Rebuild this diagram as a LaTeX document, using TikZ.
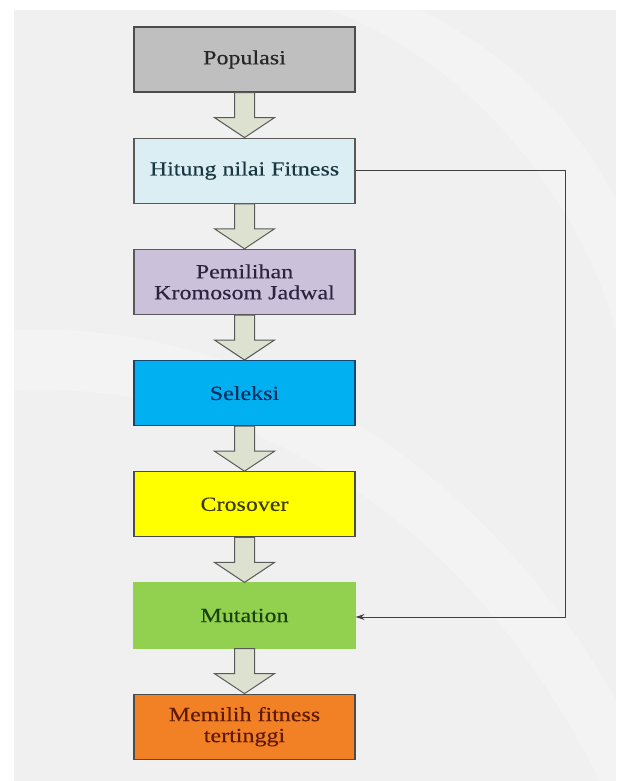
\documentclass[tikz,border=0pt]{standalone}
\usepackage{fontspec}
\setmainfont{Liberation Serif}[FakeStretch=1.2,FakeBold=0.3]
\usetikzlibrary{arrows.meta}

\definecolor{slidebg}{RGB}{240,240,240}
\definecolor{arrowfill}{RGB}{221,225,207}
\definecolor{popfill}{RGB}{191,191,191}
\definecolor{hitfill}{RGB}{219,238,244}
\definecolor{pilfill}{RGB}{204,193,218}
\definecolor{selfill}{RGB}{0,176,240}
\definecolor{crofill}{RGB}{255,255,0}
\definecolor{mutfill}{RGB}{146,208,80}
\definecolor{memfill}{RGB}{242,128,36}

\begin{document}
\begin{tikzpicture}[x=1pt,y=1pt]

\tikzstyle{boxnode}=[rectangle,inner sep=0mm,minimum height=65pt,minimum width=221pt,line width=1.2pt,align=center,font=\fontsize{20}{21}\selectfont]
\tikzstyle{blockarrow}=[draw=black!65,fill=arrowfill,line width=1pt,line join=miter]
\tikzstyle{swoosh}=[fill=white,opacity=0.25]

\useasboundingbox (0,0) rectangle (616,-781);
\fill[slidebg] (14,-10) rectangle (616,-781);
% faint slide background bands
\fill[swoosh] (330,-10) .. controls (470,-60) and (580,-200) .. (616,-330) -- (616,-200) .. controls (570,-110) and (500,-50) .. (420,-10) -- cycle;
\fill[swoosh] (14,-330) .. controls (250,-320) and (480,-460) .. (616,-700) -- (616,-781) -- (600,-781) .. controls (470,-520) and (250,-380) .. (14,-390) -- cycle;

\begin{scope}[]

\node [boxnode,draw=black!70,fill=popfill,text=black!85] (pop) at (244.5,-59.5){Populasi};
\node [anchor=north,boxnode,draw=black!65,fill=hitfill,text={rgb,255:red,25;green,55;blue,65}] (hit) at ([xshift=0pt,yshift=-45pt]pop.south){Hitung nilai Fitness};
\node [anchor=north,boxnode,draw=black!65,fill=pilfill,text={rgb,255:red,45;green,35;blue,65}] (pil) at ([xshift=0pt,yshift=-45pt]hit.south){Pemilihan\\Kromosom Jadwal};
\node [anchor=north,boxnode,draw={rgb,255:red,20;green,70;blue,110},fill=selfill,text={rgb,255:red,10;green,45;blue,95}] (sel) at ([xshift=0pt,yshift=-45pt]pil.south){Seleksi};
\node [anchor=north,boxnode,draw=black!70,fill=crofill,text={rgb,255:red,60;green,60;blue,0}] (cro) at ([xshift=0pt,yshift=-45pt]sel.south){Crosover};
\node [anchor=north,boxnode,draw=mutfill,fill=mutfill,text={rgb,255:red,25;green,65;blue,15}] (mut) at ([xshift=0pt,yshift=-45pt]cro.south){Mutation};
\node [anchor=north,boxnode,draw=black!70,fill=memfill,text={rgb,255:red,95;green,25;blue,0}] (mem) at ([xshift=0pt,yshift=-45pt]mut.south){Memilih fitness\\tertinggi};


\draw[blockarrow] ([xshift=-10pt]pop.south)--([xshift=-10pt,yshift=-25pt]pop.south)--([xshift=-30pt,yshift=-25pt]pop.south)--(hit.north)--([xshift=30pt,yshift=-25pt]pop.south)--([xshift=10pt,yshift=-25pt]pop.south)--([xshift=10pt]pop.south)--cycle;
\draw[blockarrow] ([xshift=-10pt]hit.south)--([xshift=-10pt,yshift=-25pt]hit.south)--([xshift=-30pt,yshift=-25pt]hit.south)--(pil.north)--([xshift=30pt,yshift=-25pt]hit.south)--([xshift=10pt,yshift=-25pt]hit.south)--([xshift=10pt]hit.south)--cycle;
\draw[blockarrow] ([xshift=-10pt]pil.south)--([xshift=-10pt,yshift=-25pt]pil.south)--([xshift=-30pt,yshift=-25pt]pil.south)--(sel.north)--([xshift=30pt,yshift=-25pt]pil.south)--([xshift=10pt,yshift=-25pt]pil.south)--([xshift=10pt]pil.south)--cycle;
\draw[blockarrow] ([xshift=-10pt]sel.south)--([xshift=-10pt,yshift=-25pt]sel.south)--([xshift=-30pt,yshift=-25pt]sel.south)--(cro.north)--([xshift=30pt,yshift=-25pt]sel.south)--([xshift=10pt,yshift=-25pt]sel.south)--([xshift=10pt]sel.south)--cycle;
\draw[blockarrow] ([xshift=-10pt]cro.south)--([xshift=-10pt,yshift=-25pt]cro.south)--([xshift=-30pt,yshift=-25pt]cro.south)--(mut.north)--([xshift=30pt,yshift=-25pt]cro.south)--([xshift=10pt,yshift=-25pt]cro.south)--([xshift=10pt]cro.south)--cycle;
\draw[blockarrow] ([xshift=-10pt]mut.south)--([xshift=-10pt,yshift=-25pt]mut.south)--([xshift=-30pt,yshift=-25pt]mut.south)--(mem.north)--([xshift=30pt,yshift=-25pt]mut.south)--([xshift=10pt,yshift=-25pt]mut.south)--([xshift=10pt]mut.south)--cycle;


\draw[-{Stealth[length=9pt,width=6pt]},black!75,line width=1pt] (hit.east)--([xshift=210pt]hit.east)|-([yshift=-1.5pt]mut.east);

\end{scope}
\end{tikzpicture}
\end{document}
